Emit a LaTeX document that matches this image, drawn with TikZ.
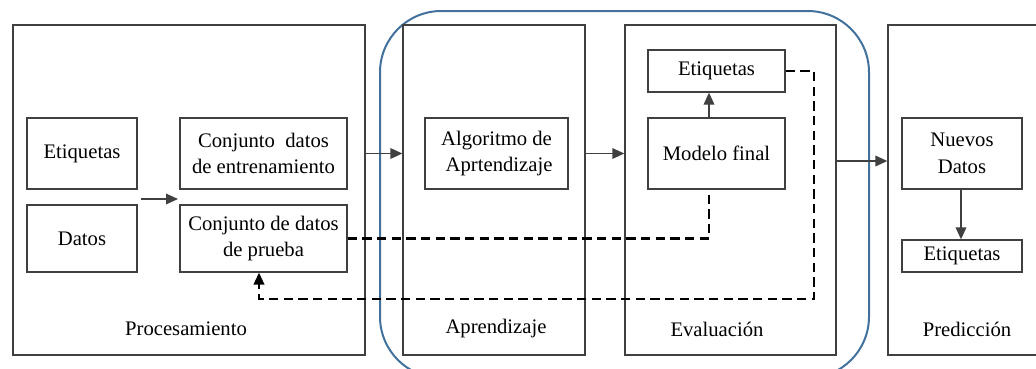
\documentclass[tikz,border=0pt]{standalone}
\usepackage{fontspec}
\setmainfont{Liberation Serif}
\newfontfamily\labelfont{Liberation Serif}
\usetikzlibrary{arrows.meta}
\definecolor{framegray}{RGB}{64,64,64}
\definecolor{stageblue}{RGB}{65,113,156}
\begin{document}
\begin{tikzpicture}[x=0.75pt,y=-0.75pt,
  every node/.style={font=\labelfont\fontsize{15.5}{20}\selectfont, inner sep=0pt, align=center},
  box/.style={draw=framegray, line width=1pt},
  stage/.style={draw=framegray, line width=1pt, minimum height=247.5pt},
  tip/.style={-{Triangle[length=9pt,width=8pt]}},
  arr/.style={draw=framegray, line width=1pt, tip},
  dashline/.style={line width=1.9pt, dash pattern=on 7pt off 4pt}
]
\useasboundingbox (0,0) rectangle (1036,368);

% group frame around learning and evaluation
\draw[stageblue, line width=1.5pt, rounded corners=46pt] (380,11) rectangle (869,378);

% stage frames
\node[stage, minimum width=264pt]    (proc) at (189,190) {};
\node[stage, minimum width=136.5pt]  (apr)  at (494,190) {};
\node[stage, minimum width=158.25pt] (eval) at (730.5,190) {};
\node[stage, minimum width=114pt]    (pred) at (964,190) {};

% stage titles
\node (tproc) at (186,329) {Procesamiento};
\node (tapr)  at (496,329) {Aprendizaje};
\node (teval) at (717,329) {Evaluación};
\node (tpred) at (967,329) {Predicción};

% processing
\node[box, minimum width=82.5pt, minimum height=53.25pt] (etq1) at (82,153.5) {Etiquetas};
\node[box, minimum width=82.5pt, minimum height=50.25pt] (datos) at (82,238.5) {Datos};
\node[box, minimum width=125.25pt, minimum height=53.25pt] (train) at (263.5,153.5) {Conjunto\ \ datos\\de entrenamiento};
\node[box, minimum width=125.25pt, minimum height=50.25pt] (test) at (263.5,238.5) {Conjunto de datos\\de prueba};

% learning
\node[box, minimum width=107.25pt, minimum height=53.25pt] (alg) at (496.5,153.5) {Algoritmo de\\\ Aprtendizaje};

% evaluation
\node[box, minimum width=102.75pt, minimum height=31.5pt] (etq2) at (716.5,71) {Etiquetas};
\node[box, minimum width=102.75pt, minimum height=53.25pt] (modelo) at (716.5,153.5) {Modelo final};

% prediction
\node[box, minimum width=90pt, minimum height=53.25pt] (nuevos) at (962,153.5) {Nuevos\\Datos};
\node[box, minimum width=90pt, minimum height=24pt] (etq3) at (962,256) {Etiquetas};

% helper points
\coordinate (splitA) at (141,199);
\coordinate (splitB) at (178,199);
\coordinate (evalout) at (836,161);
\coordinate (mx) at (709,0);
\coordinate (rx) at (814,0);
\coordinate (tx) at (259,0);
\coordinate (loopy) at (0,299);
\coordinate (nx) at (961,0);

% solid connectors
\draw[arr] (splitA) -- (splitB);
\draw[arr] (proc.east |- alg) -- (apr.west |- alg);
\draw[arr] (apr.east |- alg) -- (eval.west |- alg);
\draw[arr] (evalout) -- (evalout -| pred.west);
\draw[arr] (modelo.north -| mx) -- (etq2.south -| mx);
\draw[arr] (nuevos.south -| nx) -- (etq3.north -| nx);

% dashed feedback paths
\draw[dashline] (test.east) -- (test.east -| mx) -- (modelo.south -| mx);
\draw[dashline] (etq2.east) -- (etq2.east -| rx) -- (rx |- loopy) -- (tx |- loopy) -- ([yshift=-6pt]test.south -| tx);
\draw[line width=1.4pt, tip] ([yshift=-10pt]test.south -| tx) -- (test.south -| tx);
\end{tikzpicture}
\end{document}
